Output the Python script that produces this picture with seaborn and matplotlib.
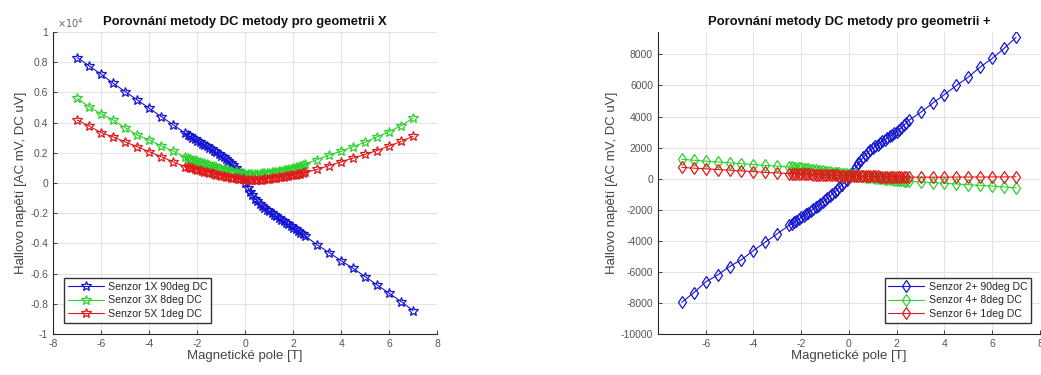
import numpy as np
import matplotlib
matplotlib.use("Agg")
import matplotlib.pyplot as plt
import seaborn as sns

# ---------------- data ----------------
FIELD_T = [-7.0, -6.5, -6.0, -5.5, -5.0, -4.5, -4.0, -3.5, -3.0,
           -2.5, -2.4, -2.3, -2.2, -2.1, -2.0, -1.9, -1.8, -1.7, -1.6,
           -1.5, -1.4, -1.3, -1.2, -1.1, -1.0, -0.9, -0.8, -0.7, -0.6,
           -0.5, -0.4, -0.3, -0.2, -0.1, 0.0,
           0.1, 0.2, 0.3, 0.4, 0.5, 0.6, 0.7, 0.8, 0.9, 1.0,
           1.1, 1.2, 1.3, 1.4, 1.5, 1.6, 1.7, 1.8, 1.9, 2.0,
           2.1, 2.2, 2.3, 2.4, 2.5,
           3.0, 3.5, 4.0, 4.5, 5.0, 5.5, 6.0, 6.5, 7.0]

# geometry X (uV)
X_S1_90 = [8300, 7750, 7200, 6600, 6050, 5500, 4950, 4400, 3850,
           3300, 3190, 3080, 2980, 2880, 2780, 2690, 2600, 2510, 2420,
           2320, 2220, 2120, 2020, 1920, 1810, 1700, 1580, 1450, 1310,
           1160, 990, 790, 560, 290, 0,
           -300, -580, -820, -1030, -1210, -1370, -1510, -1640, -1760, -1880,
           -1990, -2100, -2210, -2320, -2430, -2530, -2640, -2740, -2850, -2950,
           -3060, -3170, -3280, -3390, -3500,
           -4100, -4600, -5150, -5650, -6200, -6750, -7300, -7850, -8450]
X_S3_8 = [5600, 5050, 4570, 4170, 3660, 3180, 2850, 2450, 2120,
          1700, 1650, 1600, 1550, 1500, 1450, 1400, 1350, 1300, 1250,
          1200, 1150, 1100, 1050, 1000, 950, 910, 870, 830, 790,
          750, 720, 690, 660, 640, 620,
          610, 600, 600, 600, 610, 620, 630, 650, 670, 690,
          710, 730, 760, 790, 820, 850, 880, 910, 950, 990,
          1030, 1070, 1110, 1160, 1250,
          1550, 1850, 2100, 2400, 2700, 3050, 3400, 3800, 4300]
X_S5_1 = [4170, 3770, 3330, 3050, 2720, 2400, 2070, 1740, 1400,
          1080, 1040, 1000, 960, 920, 880, 840, 800, 760, 720,
          680, 640, 600, 560, 520, 480, 450, 420, 390, 360,
          330, 300, 280, 260, 240, 220,
          210, 200, 200, 200, 210, 220, 230, 250, 270, 290,
          310, 330, 350, 370, 390, 410, 440, 470, 500, 530,
          560, 590, 620, 660, 700,
          900, 1150, 1400, 1650, 1900, 2150, 2450, 2750, 3100]

# geometry + (uV)
P_S2_90 = [-7950, -7340, -6640, -6200, -5650, -5210, -4620, -4080, -3540,
           -3000, -2900, -2800, -2700, -2600, -2490, -2390, -2280, -2180, -2070,
           -1960, -1850, -1740, -1620, -1500, -1380, -1260, -1130, -1000, -860,
           -710, -560, -400, -230, -50, 130,
           330, 540, 760, 980, 1190, 1380, 1550, 1700, 1840, 1970,
           2090, 2200, 2310, 2420, 2520, 2620, 2720, 2820, 2920, 3020,
           3150, 3290, 3430, 3580, 3750,
           4270, 4850, 5420, 6000, 6540, 7190, 7740, 8390, 9100]
P_S4_8 = [1250, 1190, 1130, 1080, 1020, 970, 910, 860, 810,
          760, 740, 720, 700, 680, 660, 640, 620, 600, 580,
          560, 540, 520, 500, 480, 460, 440, 420, 400, 380,
          360, 340, 320, 300, 280, 260,
          240, 225, 210, 190, 175, 160, 140, 125, 110, 90,
          75, 60, 40, 25, 10, -10, -25, -40, -60, -75,
          -90, -110, -125, -140, -160,
          -200, -250, -290, -340, -380, -430, -480, -530, -590]
P_S6_1 = [730, 680, 640, 590, 550, 500, 460, 410, 370,
          330, 324, 318, 312, 306, 300, 294, 288, 282, 276,
          270, 264, 258, 252, 246, 240, 234, 228, 222, 216,
          210, 204, 198, 192, 186, 180,
          177, 174, 171, 168, 165, 162, 159, 156, 153, 150,
          147, 144, 141, 138, 135, 132, 129, 126, 123, 120,
          117, 114, 111, 108, 105,
          100, 100, 105, 105, 110, 110, 115, 115, 120]

LABELS_X = ["Senzor 1X 90deg DC", "Senzor 3X 8deg DC", "Senzor 5X 1deg DC"]
LABELS_P = ["Senzor 2+ 90deg DC", "Senzor 4+ 8deg DC", "Senzor 6+ 1deg DC"]
TITLE_X = "Porovnání metody DC metody pro geometrii X"
TITLE_P = "Porovnání metody DC metody pro geometrii +"
XLABEL = "Magnetické pole [T]"
YLABEL = "Hallovo napětí [AC mV, DC uV]"

X_YTICKS = [-10000, -8000, -6000, -4000, -2000, 0, 2000, 4000, 6000, 8000, 10000]
X_YTICKLABELS = ["-1", "-0.8", "-0.6", "-0.4", "-0.2", "0", "0.2", "0.4", "0.6", "0.8", "1"]
X_XTICKS = [-8, -6, -4, -2, 0, 2, 4, 6, 8]
P_YTICKS = [-10000, -8000, -6000, -4000, -2000, 0, 2000, 4000, 6000, 8000]
P_XTICKS = [-6, -4, -2, 0, 2, 4, 6, 8]

COLORS = ["#1414d2", "#2fd12f", "#e01a1a"]

# ---------------- style ----------------
sns.set_style("ticks")
plt.rcParams["font.family"] = ["Liberation Sans", "DejaVu Sans"]
plt.rcParams["axes.unicode_minus"] = False
TXT = "#262626"

fig = plt.figure(figsize=(10.41, 3.75), dpi=100)
axL = fig.add_axes([0.051, 0.109, 0.369, 0.806])
axR = fig.add_axes([0.632, 0.109, 0.367, 0.806])


def draw(ax, series, labels, marker, msize):
    for vals, lab, c in zip(series, labels, COLORS):
        sns.lineplot(x=FIELD_T, y=vals, ax=ax, sort=False, estimator=None,
                     color=c, linewidth=0.8, marker=marker, markersize=msize,
                     markerfacecolor="none", markeredgecolor=c,
                     markeredgewidth=0.9, label=lab)
    ax.grid(True, color="#e3e3e3", linewidth=0.8)
    ax.set_axisbelow(True)
    for s in ["top", "right"]:
        ax.spines[s].set_visible(False)
    for s in ["left", "bottom"]:
        ax.spines[s].set_color(TXT)
        ax.spines[s].set_linewidth(0.8)
    ax.tick_params(direction="in", length=3, labelsize=7.5, colors=TXT,
                   labelcolor="#555555", width=0.6)
    ax.set_xlabel(XLABEL, fontsize=9.5, color="#444444", labelpad=1)
    ax.set_ylabel(YLABEL, fontsize=9.5, color="#444444", labelpad=2)


draw(axL, [X_S1_90, X_S3_8, X_S5_1], LABELS_X, "*", 7.5)
axL.set_xlim(-8, 8)
axL.set_ylim(-10000, 10000)
axL.set_xticks(X_XTICKS)
axL.set_yticks(X_YTICKS)
axL.set_yticklabels(X_YTICKLABELS)
axL.set_title(TITLE_X, fontsize=9.4, fontweight="bold", color="#111111", pad=5)
axL.text(0.01, 1.005, r"$\times10^{4}$", transform=axL.transAxes,
         fontsize=7, color="#666666", va="bottom", ha="left")
legL = axL.legend(loc="lower left", fontsize=7.6, frameon=True, fancybox=False,
                  borderpad=0.35, handlelength=3.4, handletextpad=0.4,
                  labelspacing=0.35, bbox_to_anchor=(0.015, 0.02))
legL.get_frame().set_edgecolor("black")
legL.get_frame().set_linewidth(1.0)

draw(axR, [P_S2_90, P_S4_8, P_S6_1], LABELS_P, "d", 6)
axR.set_xlim(-8, 8)
axR.set_ylim(-10000, 9450)
axR.set_xticks(P_XTICKS)
axR.set_yticks(P_YTICKS)
axR.set_title(TITLE_P, fontsize=9.4, fontweight="bold", color="#111111", pad=5)
legR = axR.legend(loc="lower right", fontsize=7.6, frameon=True, fancybox=False,
                  borderpad=0.35, handlelength=3.4, handletextpad=0.4,
                  labelspacing=0.35, bbox_to_anchor=(0.99, 0.02))
legR.get_frame().set_edgecolor("black")
legR.get_frame().set_linewidth(1.0)

fig.savefig("out.png", dpi=100)
